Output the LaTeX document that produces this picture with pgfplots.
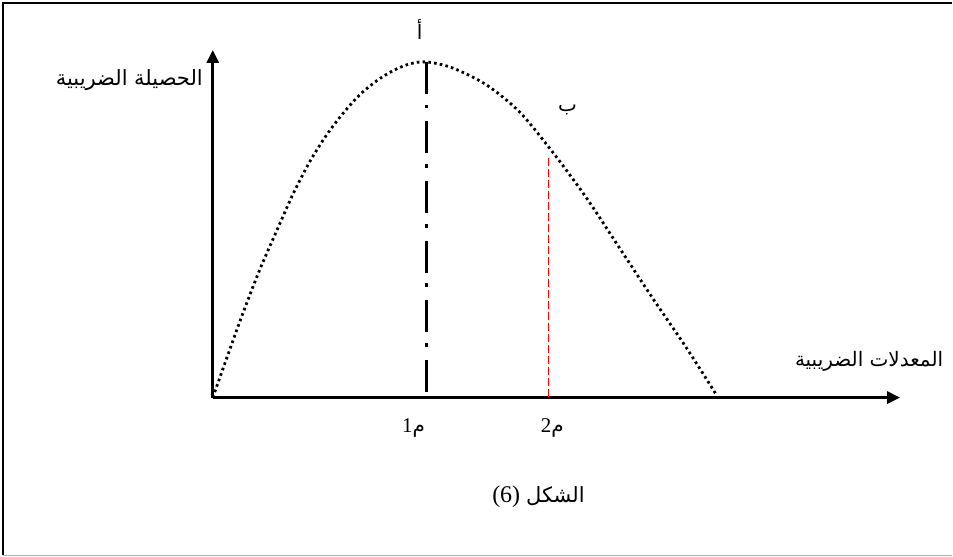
\documentclass[border=0pt]{standalone}
\usepackage{fontspec}
\setmainfont{Liberation Serif}
\newfontfamily\arabicfont[Script=Arabic]{DejaVu Sans}
\TeXXeTstate=1
\usepackage{pgfplots}
\pgfplotsset{compat=1.18}
\usetikzlibrary{arrows.meta}
\begin{document}
\begin{tikzpicture}
\begin{axis}[
  x=0.5pt, y=0.5pt,
  xmin=-213, xmax=740, ymin=-159, ymax=398,
  hide axis, clip=false,
  scale only axis,
]
% invisible box fixing the picture size
\path (axis cs:-213,-159) rectangle (axis cs:740,398);
% frame
\addplot[black, line width=1pt] coordinates {(-210,-158) (-210,395) (740,395)};
\addplot[gray!60, line width=0.8pt] coordinates {(-210,-158) (740,-158)};
% axes
\addplot[black, line width=1.5pt, -{Triangle[length=6.5pt,width=6pt]}] coordinates {(0,0) (688,0)};
\addplot[black, line width=1.5pt, -{Triangle[length=6.5pt,width=6pt]}] coordinates {(0,0) (0,348)};
% Laffer curve
\addplot[black, line width=1.4pt, dash pattern=on 1.3pt off 1.6pt, smooth, tension=0.5] coordinates {
 (0,0) (17,48) (30,84) (47,128) (64,167) (80,203) (97,236) (114,263)
 (130,284) (147,303) (164,317) (180,327) (197,334) (214,336)
 (240,330) (274,313) (307,286) (340,246) (374,200) (407,150)
 (440,100) (474,50) (504,3)};
% vertical lines
\addplot[black, line width=1.8pt, dash pattern=on 16pt off 5.5pt on 1.8pt off 6.5pt] coordinates {(214,336) (214,0)};
\addplot[red, line width=0.9pt, dash pattern=on 4pt off 1.5pt] coordinates {(336,240) (336,0)};
% labels
\node[font=\arabicfont\fontsize{10}{12}\selectfont] at (axis cs:207,368) {\beginR أ\endR};
\node[font=\arabicfont\fontsize{10}{12}\selectfont] at (axis cs:355,288) {\beginR ب\endR};
\node[anchor=east, font=\arabicfont\fontsize{10.5}{12}\selectfont] at (axis cs:-3,318) {\beginR الحصيلة الضريبية\endR};
\node[font=\arabicfont\fontsize{10}{12}\selectfont] at (axis cs:657,36) {\beginR المعدلات الضريبية\endR};
\node[font=\fontsize{10.5}{12}\selectfont] at (axis cs:201,-30) {1{\arabicfont\fontsize{10}{12}\selectfont م}};
\node[font=\fontsize{10.5}{12}\selectfont] at (axis cs:340,-30) {2{\arabicfont\fontsize{10}{12}\selectfont م}};
\node[font=\fontsize{12}{14}\selectfont] at (axis cs:326,-99) {(6) {\arabicfont\fontsize{10.5}{12}\selectfont الشكل}};
\end{axis}
\end{tikzpicture}
\end{document}
